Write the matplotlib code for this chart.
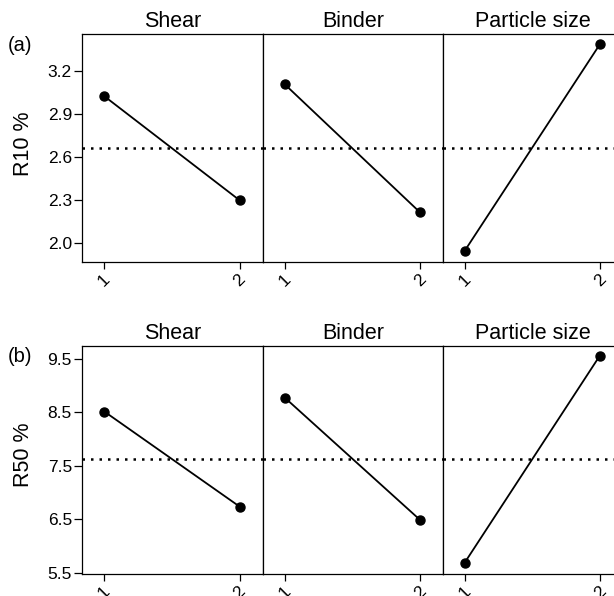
import matplotlib
matplotlib.use("Agg")
import matplotlib.pyplot as plt

plt.rcParams["font.family"] = ["Liberation Sans", "DejaVu Sans"]

FACTORS = ["Shear", "Binder", "Particle size"]
LEVELS = [1, 2]
R10 = [[3.022, 2.298], [3.105, 2.214], [1.946, 3.384]]
R50 = [[8.51, 6.735], [8.77, 6.487], [5.687, 9.556]]
R10_MEAN = 2.66
R50_MEAN = 7.625
R10_TICKS = [2.0, 2.3, 2.6, 2.9, 3.2]
R50_TICKS = [5.5, 6.5, 7.5, 8.5, 9.5]

W, H = 614, 596
fig = plt.figure(figsize=(W / 100, H / 100), dpi=100)

rows = [
    dict(data=R10, mean=R10_MEAN, ticks=R10_TICKS, ylim=(1.87, 3.453),
         ylabel="R10 %", tag="(a)", top=34.3, bot=261.7),
    dict(data=R50, mean=R50_MEAN, ticks=R50_TICKS, ylim=(5.48, 9.74),
         ylabel="R50 %", tag="(b)", top=345.7, bot=573.7),
]
lefts = [82.3, 262.7, 442.7]
pw = 180.2

for r in rows:
    for i, (name, vals) in enumerate(zip(FACTORS, r["data"])):
        ax = fig.add_axes([lefts[i] / W, 1 - r["bot"] / H, pw / W, (r["bot"] - r["top"]) / H])
        ax.plot(LEVELS, vals, color="black", lw=1.3, marker="o", ms=6.5, zorder=3)
        ax.axhline(r["mean"], color="black", ls=(0, (1, 2.4)), lw=1.8)
        ax.set_xlim(0.837, 2.17)
        ax.set_ylim(*r["ylim"])
        ax.set_xticks(LEVELS)
        ax.set_xticklabels([str(v) for v in LEVELS], rotation=45, fontsize=12.5,
                           ha="center", va="top")
        ax.tick_params(axis="x", length=5, width=0.9, pad=2)
        ax.set_title(name, fontsize=15.5, pad=5)
        for s in ax.spines.values():
            s.set_linewidth(0.9)
        if i == 0:
            ax.set_yticks(r["ticks"])
            ax.set_yticklabels([f"{t:.1f}" for t in r["ticks"]], fontsize=12.5)
            ax.tick_params(axis="y", length=5.5, width=0.9, pad=2)
            ax.set_ylabel(r["ylabel"], fontsize=15.5)
            ax.yaxis.set_label_coords(-0.27, 0.52)
            fig.text(8 / W, 1 - (r["top"] + 11) / H, r["tag"], fontsize=14.5,
                     ha="left", va="center")
        else:
            ax.set_yticks([])

fig.savefig("out.png", dpi=100)
